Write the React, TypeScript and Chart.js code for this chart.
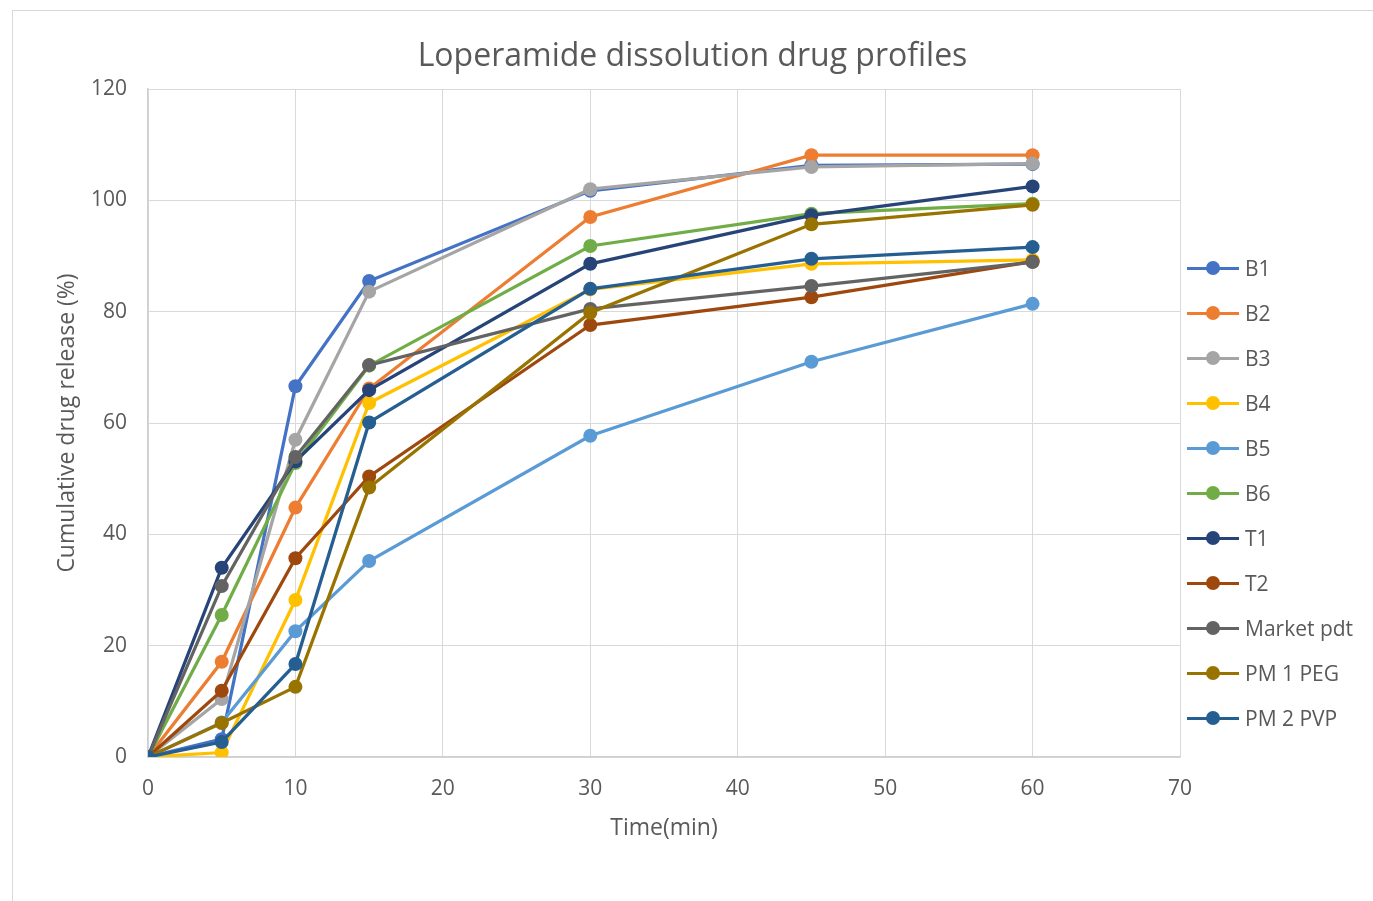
import React, { useEffect, useRef } from "react";
import { Chart, registerables } from "chart.js";

Chart.register(...registerables);

// Sampling times (min)
const times = [0, 5, 10, 15, 30, 45, 60];

// Cumulative drug release (%) per formulation
const b1 = [0, 3.2, 66.6, 85.5, 101.7, 106.3, 106.5];
const b2 = [0, 17.1, 44.8, 66.2, 97.0, 108.1, 108.1];
const b3 = [0, 10.4, 57.0, 83.6, 102.0, 106.0, 106.6];
const b4 = [0, 0.8, 28.2, 63.6, 84.0, 88.6, 89.3];
const b5 = [0, 6.2, 22.6, 35.2, 57.7, 71.0, 81.4];
const b6 = [0, 25.5, 52.8, 70.3, 91.8, 97.6, 99.4];
const t1 = [0, 34.0, 53.1, 65.9, 88.6, 97.3, 102.5];
const t2 = [0, 11.9, 35.7, 50.4, 77.6, 82.6, 89.0];
const marketPdt = [0, 30.7, 53.9, 70.4, 80.5, 84.6, 88.9];
const pm1Peg = [0, 6.1, 12.6, 48.4, 79.8, 95.7, 99.2];
const pm2Pvp = [0, 2.7, 16.7, 60.1, 84.1, 89.5, 91.6];

const seriesNames = ["B1", "B2", "B3", "B4", "B5", "B6", "T1", "T2", "Market pdt", "PM 1 PEG", "PM 2 PVP"];
const seriesValues = [b1, b2, b3, b4, b5, b6, t1, t2, marketPdt, pm1Peg, pm2Pvp];
const seriesColors = [
  "#4472C4", "#ED7D31", "#A5A5A5", "#FFC000", "#5B9BD5", "#70AD47",
  "#264478", "#9E480E", "#636363", "#997300", "#255E91",
];

const chartTitle = "Loperamide dissolution drug profiles";
const xTitle = "Time(min)";
const yTitle = "Cumulative drug release (%)";

const FONT = "'Open Sans', sans-serif";
const TEXT = "#595959";
const W = 1373;
const H = 901;

export default function App() {
  const canvasRef = useRef<HTMLCanvasElement | null>(null);

  useEffect(() => {
    if (!canvasRef.current) return;
    const n = seriesNames.length;
    const chart = new Chart(canvasRef.current, {
      type: "line",
      data: {
        datasets: seriesNames.map((name, i) => ({
          label: name,
          data: times.map((t, j) => ({ x: t, y: seriesValues[i][j] })),
          borderColor: seriesColors[i],
          backgroundColor: seriesColors[i],
          pointBackgroundColor: seriesColors[i],
          pointBorderColor: seriesColors[i],
          pointBorderWidth: 0,
          pointRadius: 7,
          borderWidth: 3.25,
          tension: 0,
          fill: false,
          // later series are painted over earlier ones
          order: n - i,
        })),
      },
      options: {
        responsive: false,
        animation: false,
        layout: { padding: { left: 50, right: 193, top: 89, bottom: 55 } },
        plugins: {
          legend: { display: false },
          title: { display: false },
          tooltip: { enabled: false },
        },
        scales: {
          x: {
            type: "linear",
            min: 0,
            max: 70,
            ticks: { stepSize: 10, color: TEXT, font: { family: FONT, size: 21 }, padding: 19 },
            grid: { color: "#d9d9d9", lineWidth: 1, drawTicks: false },
            border: { color: "#cfcfcf", width: 1.5 },
            title: { display: true, text: xTitle, color: TEXT, font: { family: FONT, size: 23 } },
            afterFit: (s: any) => { s.height = 89; },
          },
          y: {
            type: "linear",
            min: 0,
            max: 120,
            ticks: { stepSize: 20, color: TEXT, font: { family: FONT, size: 21 }, padding: 21 },
            grid: { color: "#d9d9d9", lineWidth: 1, drawTicks: false },
            border: { color: "#cfcfcf", width: 1.5 },
            title: { display: true, text: yTitle, color: TEXT, font: { family: FONT, size: 23 } },
            afterFit: (s: any) => { s.width = 98; },
          },
        },
      },
    });
    return () => chart.destroy();
  }, []);

  return (
    <div style={{ position: "absolute", left: 0, top: 0, width: W, height: H, overflow: "hidden", background: "#fff" }}>
      <div
        style={{
          position: "absolute", left: 12, top: 10, width: W, height: H,
          border: "1px solid #d9d9d9", boxSizing: "border-box",
        }}
      />
      <canvas ref={canvasRef} width={W} height={H} style={{ position: "absolute", left: 0, top: 0 }} />
      <div
        style={{
          position: "absolute", left: 12, width: W - 12, top: 32, textAlign: "center",
          fontFamily: FONT, fontSize: 32, color: TEXT, lineHeight: "44px",
        }}
      >
        {chartTitle}
      </div>
      {seriesNames.map((name, i) => (
        <div
          key={name}
          style={{
            position: "absolute", left: 1187, top: 268 + 45 * i - 15, height: 30,
            display: "flex", alignItems: "center", fontFamily: FONT, fontSize: 21, color: TEXT,
          }}
        >
          <div style={{ position: "relative", width: 52, height: 14, marginRight: 6 }}>
            <div style={{ position: "absolute", left: 0, top: 5.5, width: 52, height: 3, background: seriesColors[i] }} />
            <div
              style={{
                position: "absolute", left: 19, top: 0, width: 14, height: 14,
                borderRadius: "50%", background: seriesColors[i],
              }}
            />
          </div>
          <span>{name}</span>
        </div>
      ))}
    </div>
  );
}
